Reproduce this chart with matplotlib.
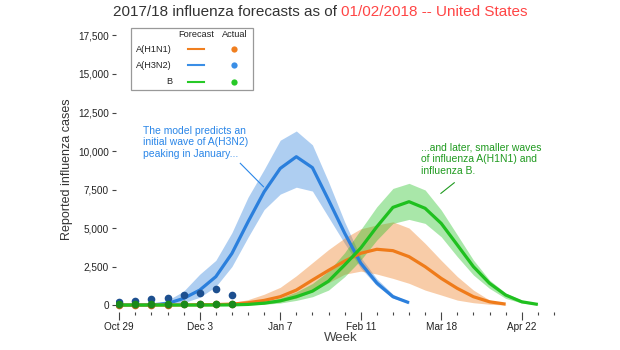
import numpy as np
import matplotlib
matplotlib.use("Agg")
import matplotlib.pyplot as plt
from matplotlib.lines import Line2D
from matplotlib.patches import Rectangle

plt.rcParams['font.family'] = ['Liberation Sans', 'DejaVu Sans']

# week 0 = Oct 29, 2017
tick_weeks = [0, 5, 10, 15, 20, 25]
tick_labels = ["Oct 29", "Dec 3", "Jan 7", "Feb 11", "Mar 18", "Apr 22"]

# A(H3N2) forecast, weeks 0..18
h3_weeks = list(range(0, 19))
h3_med = [0, 0, 10, 100, 430, 970, 1840, 3350, 5400, 7350, 8870, 9630, 8920, 6820, 4670, 2720, 1430, 540, 150]
h3_hi = [0, 0, 40, 300, 900, 2000, 2900, 4700, 7000, 8800, 10700, 11300, 10400, 8000, 5400, 3100, 1700, 700, 200]
h3_lo = [0, 0, 0, 20, 150, 500, 1200, 2500, 4400, 6200, 7200, 7650, 7400, 5700, 4000, 2400, 1250, 450, 120]

# A(H1N1) forecast, weeks 0..24
h1_weeks = list(range(0, 25))
h1_med = [0, 0, 0, 0, 10, 20, 30, 60, 150, 300, 540, 970, 1620, 2250, 2850, 3360, 3620, 3530, 3140, 2490, 1730, 1080, 540, 210, 60]
h1_hi = [0, 0, 0, 10, 30, 50, 80, 150, 350, 700, 1150, 1900, 2750, 3600, 4350, 4950, 5200, 5400, 5000, 4000, 2900, 1850, 970, 320, 60]
h1_lo = [0, 0, 0, 0, 0, 0, 0, 0, 30, 80, 200, 450, 880, 1450, 2000, 2200, 2010, 1730, 1410, 970, 650, 320, 150, 50, 0]

# B forecast, weeks 0..26
b_weeks = list(range(0, 27))
b_med = [0, 0, 0, 0, 0, 0, 0, 10, 40, 120, 270, 540, 900, 1550, 2600, 3700, 5080, 6340, 6710, 6280, 5300, 3900, 2490, 1410, 650, 210, 40]
b_hi = [0, 0, 0, 0, 0, 10, 20, 40, 80, 200, 450, 850, 1400, 2200, 3400, 4900, 6380, 7570, 7900, 7470, 6170, 4550, 2920, 1620, 780, 320, 60]
b_lo = [0, 0, 0, 0, 0, 0, 0, 0, 10, 50, 130, 300, 540, 970, 1840, 2920, 4220, 5300, 5560, 5300, 4430, 3140, 1950, 1080, 430, 130, 20]

# observed so far
obs_weeks = list(range(0, 8))
obs_h3 = [210, 280, 390, 430, 650, 800, 1020, 650]
obs_h1 = [20, 20, 30, 30, 50, 60, 80, 50]
obs_b = [40, 50, 60, 40, 60, 60, 90, 60]

c_h1, c_h3, c_b = "#ef7b1a", "#2b7fdc", "#1fc01f"
d_h1, d_h3, d_b = "#b8661c", "#1d4f8f", "#1a8a1a"

fig = plt.figure(figsize=(6.2, 3.5), dpi=100)
ax = fig.add_axes([0.1871, 0.11, 0.7245, 0.8106])

ax.fill_between(h3_weeks, h3_lo, h3_hi, color=c_h3, alpha=0.38, lw=0)
ax.plot(h3_weeks, h3_med, color=c_h3, lw=2.3, solid_capstyle='butt')
ax.fill_between(h1_weeks, h1_lo, h1_hi, color=c_h1, alpha=0.38, lw=0)
ax.plot(h1_weeks, h1_med, color=c_h1, lw=2.3, solid_capstyle='butt')
ax.fill_between(b_weeks, b_lo, b_hi, color=c_b, alpha=0.38, lw=0)
ax.plot(b_weeks, b_med, color=c_b, lw=2.3, solid_capstyle='butt')

ax.plot(obs_weeks, obs_h3, 'o', color=d_h3, ms=5.5, mew=0)
ax.plot(obs_weeks, obs_h1, 'o', color=d_h1, ms=5.5, mew=0)
ax.plot(obs_weeks, obs_b, 'o', color=d_b, ms=5.5, mew=0)

ax.set_xlim(-0.2, 27.7)
ax.set_ylim(-420, 18000)
for s in ax.spines.values():
    s.set_visible(False)

ax.set_xticks(tick_weeks)
ax.set_xticklabels(tick_labels)
ax.set_xticks(range(0, 28), minor=True)
ax.set_yticks(np.arange(0, 17501, 2500))
ax.set_yticklabels(["{:,}".format(v) for v in range(0, 17501, 2500)])
ax.tick_params(axis='x', which='major', length=5.5, width=0.8, color='#444', labelsize=7.2, labelcolor='#222', pad=2)
ax.tick_params(axis='x', which='minor', length=2.5, width=0.8, color='#444')
ax.tick_params(axis='y', length=3, width=0.8, color='#444', labelsize=7.2, labelcolor='#222', pad=2)

ax.set_xlabel("Week", fontsize=9.5, color='#444', labelpad=0)
ax.set_ylabel("Reported influenza cases", fontsize=9, color='#333', labelpad=4)

# annotations
ax.text(1.49, 11650, "The model predicts an\ninitial wave of A(H3N2)\npeaking in January...",
        color="#2a86e8", fontsize=7.5, va='top', ha='left', linespacing=1.22)
ax.plot([7.52, 8.96], [9200, 7680], color="#2a86e8", lw=0.8)
ax.text(18.74, 10550, "...and later, smaller waves\nof influenza A(H1N1) and\ninfluenza B.",
        color="#1f9a1f", fontsize=7.5, va='top', ha='left', linespacing=1.22)
ax.plot([20.81, 19.98], [7940, 7250], color="#1f9a1f", lw=0.8)

# title in two colours
fig.text(337 / 620, 1 - 12 / 350, "2017/18 influenza forecasts as of", color='#333',
         fontsize=11, ha='right', va='center')
fig.text(341 / 620, 1 - 12 / 350, "01/02/2018 -- United States", color='#ff4545',
         fontsize=11, ha='left', va='center')

# legend table
W, H = 620.0, 350.0
fig.patches.append(Rectangle((130.7 / W, 1 - 90 / H), (253 - 130.7) / W, (90 - 28.3) / H,
                             transform=fig.transFigure, fill=False, ec='#999', lw=0.9))
fig.text(196 / W, 1 - 34.7 / H, "Forecast", fontsize=6.6, ha='center', va='center', color='#222')
fig.text(235 / W, 1 - 34.7 / H, "Actual", fontsize=6.6, ha='center', va='center', color='#222')
leg_names = ["A(H1N1)", "A(H3N2)", "B"]
leg_cols = ["#f07f1f", "#3a8ee6", "#27c927"]
leg_y = [49.3, 65, 81.7]
for name, col, yy in zip(leg_names, leg_cols, leg_y):
    fig.text(172 / W, 1 - yy / H, name, fontsize=6.6, ha='right', va='center', color='#222')
    fig.lines.append(Line2D([188 / W, 204 / W], [1 - yy / H, 1 - yy / H], color=col, lw=1.5,
                            transform=fig.transFigure))
    fig.lines.append(Line2D([234 / W], [1 - yy / H], marker='o', ms=4.5, mew=0, color=col,
                            transform=fig.transFigure))

fig.savefig("out.png", dpi=100)
